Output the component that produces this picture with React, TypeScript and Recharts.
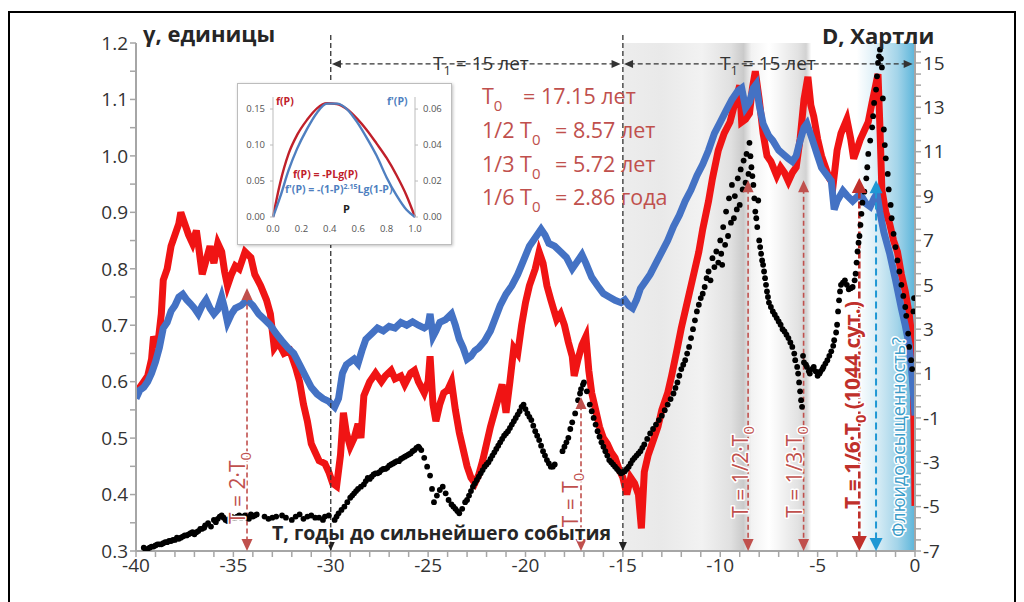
import React from "react";
import {
  ComposedChart,
  LineChart,
  Line,
  Scatter,
  XAxis,
  YAxis,
  ReferenceArea,
  ReferenceLine,
  ReferenceDot,
} from "recharts";

// γ, red curve: [T, value]
const RED: [number, number][] = [
  [-40, 0.575], [-39.8, 0.59], [-39.6, 0.6], [-39.4, 0.61], [-39.2, 0.64], [-39.1, 0.68], [-38.9, 0.66],
  [-38.7, 0.72], [-38.6, 0.78], [-38.4, 0.8], [-38.2, 0.84], [-38.0, 0.86], [-37.8, 0.88], [-37.7, 0.9],
  [-37.5, 0.88], [-37.3, 0.86], [-37.1, 0.845], [-36.9, 0.868], [-36.75, 0.83], [-36.6, 0.79], [-36.4, 0.815],
  [-36.2, 0.84], [-36.0, 0.81], [-35.8, 0.845], [-35.6, 0.83], [-35.45, 0.795], [-35.3, 0.77], [-35.1, 0.79],
  [-34.9, 0.805], [-34.7, 0.8], [-34.4, 0.83], [-34.1, 0.82], [-33.9, 0.79], [-33.6, 0.77], [-33.3, 0.745],
  [-33.1, 0.72], [-32.9, 0.66], [-32.7, 0.67], [-32.4, 0.65], [-32.1, 0.655], [-31.8, 0.625], [-31.6, 0.6],
  [-31.4, 0.56], [-31.2, 0.53], [-31.0, 0.49], [-30.8, 0.475], [-30.6, 0.46], [-30.3, 0.455], [-30.1, 0.44],
  [-29.9, 0.42], [-29.7, 0.415], [-29.5, 0.47], [-29.35, 0.545], [-29.2, 0.51], [-29.0, 0.485], [-28.8, 0.5],
  [-28.6, 0.525], [-28.45, 0.5], [-28.3, 0.575], [-28.0, 0.6], [-27.7, 0.615], [-27.4, 0.6], [-27.2, 0.61],
  [-26.9, 0.62], [-26.7, 0.605], [-26.4, 0.61], [-26.2, 0.595], [-25.9, 0.615], [-25.7, 0.62], [-25.5, 0.6],
  [-25.2, 0.58], [-25.0, 0.6], [-24.9, 0.645], [-24.75, 0.56], [-24.6, 0.53], [-24.4, 0.56], [-24.2, 0.58],
  [-24.0, 0.585], [-23.8, 0.6], [-23.6, 0.55], [-23.4, 0.51], [-23.2, 0.48], [-23.0, 0.45], [-22.8, 0.43],
  [-22.6, 0.42], [-22.4, 0.435], [-22.2, 0.46], [-22.0, 0.49], [-21.8, 0.52], [-21.6, 0.545], [-21.4, 0.57],
  [-21.2, 0.595], [-21.0, 0.545], [-20.8, 0.6], [-20.6, 0.66], [-20.4, 0.65], [-20.2, 0.7], [-20.0, 0.74],
  [-19.8, 0.77], [-19.5, 0.8], [-19.3, 0.83], [-19.1, 0.81], [-18.9, 0.77], [-18.7, 0.745], [-18.4, 0.71],
  [-18.2, 0.72], [-18.0, 0.7], [-17.8, 0.67], [-17.6, 0.645], [-17.5, 0.61], [-17.3, 0.64], [-17.1, 0.665],
  [-16.9, 0.68], [-16.75, 0.62], [-16.6, 0.58], [-16.4, 0.55], [-16.2, 0.52], [-16.0, 0.5], [-15.8, 0.49],
  [-15.6, 0.475], [-15.4, 0.465], [-15.2, 0.445], [-15.0, 0.43], [-14.8, 0.4], [-14.6, 0.43], [-14.4, 0.42],
  [-14.2, 0.4], [-14.05, 0.34], [-13.9, 0.44], [-13.7, 0.47], [-13.5, 0.49], [-13.2, 0.52], [-13.0, 0.55],
  [-12.7, 0.58], [-12.5, 0.61], [-12.2, 0.66], [-12.0, 0.695], [-11.7, 0.74], [-11.4, 0.785], [-11.1, 0.83],
  [-10.9, 0.87], [-10.6, 0.92], [-10.4, 0.96], [-10.1, 1.01], [-9.8, 1.04], [-9.5, 1.06], [-9.2, 1.1],
  [-9.0, 1.125], [-8.9, 1.06], [-8.7, 1.065], [-8.5, 1.075], [-8.35, 1.12], [-8.2, 1.15], [-8.0, 1.1],
  [-7.8, 1.04], [-7.6, 1.0], [-7.4, 0.99], [-7.1, 0.965], [-6.9, 0.98], [-6.7, 0.97], [-6.5, 0.955],
  [-6.3, 0.97], [-6.1, 0.98], [-5.9, 1.03], [-5.7, 1.1], [-5.5, 1.14], [-5.35, 1.09], [-5.2, 1.07],
  [-5.0, 1.03], [-4.8, 1.0], [-4.6, 0.98], [-4.4, 0.96], [-4.2, 0.95], [-4.0, 1.01], [-3.8, 1.04],
  [-3.5, 1.065], [-3.3, 1.03], [-3.15, 0.995], [-3.0, 1.01], [-2.8, 1.03], [-2.6, 1.045], [-2.4, 1.06],
  [-2.2, 1.095], [-2.05, 1.12], [-1.9, 1.145], [-1.8, 1.05], [-1.7, 0.94], [-1.5, 0.9], [-1.3, 0.88],
  [-1.1, 0.85], [-0.9, 0.83], [-0.7, 0.79], [-0.5, 0.76], [-0.3, 0.72], [-0.2, 0.69], [-0.1, 0.62],
  [-0.05, 0.52], [-0.02, 0.45], [0, 0.38],
];

// γ, blue curve: [T, value]
const BLUE: [number, number][] = [
  [-40, 0.57], [-39.8, 0.585], [-39.6, 0.59], [-39.4, 0.6], [-39.2, 0.615], [-39.0, 0.635], [-38.8, 0.66],
  [-38.6, 0.695], [-38.4, 0.705], [-38.2, 0.725], [-38.0, 0.735], [-37.8, 0.75], [-37.6, 0.755], [-37.4, 0.745],
  [-37.2, 0.738], [-37.0, 0.73], [-36.8, 0.72], [-36.6, 0.735], [-36.4, 0.745], [-36.2, 0.73], [-36.0, 0.72],
  [-35.8, 0.728], [-35.6, 0.75], [-35.45, 0.73], [-35.3, 0.705], [-35.1, 0.72], [-34.9, 0.73], [-34.6, 0.735],
  [-34.3, 0.745], [-34.0, 0.735], [-33.7, 0.72], [-33.4, 0.71], [-33.1, 0.7], [-32.8, 0.685], [-32.5, 0.672],
  [-32.2, 0.66], [-31.9, 0.65], [-31.6, 0.63], [-31.3, 0.61], [-31.0, 0.59], [-30.7, 0.578], [-30.4, 0.57],
  [-30.1, 0.565], [-29.8, 0.555], [-29.6, 0.57], [-29.4, 0.615], [-29.2, 0.63], [-29.0, 0.635], [-28.8, 0.64],
  [-28.6, 0.632], [-28.4, 0.655], [-28.2, 0.675], [-27.9, 0.685], [-27.6, 0.695], [-27.3, 0.69], [-27.0, 0.698],
  [-26.7, 0.695], [-26.4, 0.705], [-26.1, 0.7], [-25.8, 0.706], [-25.5, 0.7], [-25.2, 0.695], [-25.0, 0.7],
  [-24.9, 0.72], [-24.75, 0.68], [-24.6, 0.69], [-24.4, 0.705], [-24.1, 0.71], [-23.8, 0.72], [-23.6, 0.7],
  [-23.4, 0.675], [-23.2, 0.66], [-23.0, 0.64], [-22.8, 0.645], [-22.6, 0.655], [-22.4, 0.66], [-22.1, 0.672],
  [-21.8, 0.69], [-21.6, 0.708], [-21.3, 0.735], [-21.0, 0.755], [-20.7, 0.77], [-20.4, 0.79], [-20.1, 0.815],
  [-19.8, 0.84], [-19.5, 0.855], [-19.2, 0.87], [-19.0, 0.86], [-18.8, 0.845], [-18.5, 0.84], [-18.2, 0.83],
  [-17.9, 0.82], [-17.6, 0.8], [-17.4, 0.81], [-17.1, 0.825], [-16.9, 0.81], [-16.6, 0.785], [-16.3, 0.77],
  [-16.0, 0.756], [-15.7, 0.75], [-15.4, 0.744], [-15.1, 0.74], [-14.9, 0.745], [-14.7, 0.735], [-14.5, 0.73],
  [-14.3, 0.745], [-14.1, 0.765], [-13.9, 0.775], [-13.6, 0.79], [-13.3, 0.81], [-13.0, 0.83], [-12.7, 0.85],
  [-12.4, 0.875], [-12.1, 0.895], [-11.8, 0.92], [-11.5, 0.94], [-11.2, 0.965], [-10.9, 0.985], [-10.6, 1.01],
  [-10.3, 1.04], [-10.0, 1.06], [-9.7, 1.08], [-9.4, 1.1], [-9.1, 1.115], [-8.9, 1.12], [-8.7, 1.085],
  [-8.5, 1.095], [-8.3, 1.12], [-8.15, 1.127], [-8.0, 1.09], [-7.8, 1.057], [-7.5, 1.035], [-7.3, 1.027],
  [-7.0, 1.01], [-6.8, 1.004], [-6.5, 0.995], [-6.3, 0.99], [-6.1, 1.0], [-5.9, 1.027], [-5.7, 1.05],
  [-5.55, 1.057], [-5.3, 1.032], [-5.0, 1.0], [-4.8, 0.979], [-4.5, 0.965], [-4.3, 0.956], [-4.15, 0.905],
  [-4.0, 0.92], [-3.7, 0.938], [-3.5, 0.93], [-3.2, 0.92], [-2.9, 0.93], [-2.7, 0.926], [-2.5, 0.915],
  [-2.3, 0.91], [-2.1, 0.925], [-1.95, 0.933], [-1.8, 0.9], [-1.6, 0.865], [-1.3, 0.827], [-1.0, 0.78],
  [-0.7, 0.73], [-0.5, 0.7], [-0.3, 0.665], [-0.15, 0.61], [-0.05, 0.565], [0, 0.54],
];

// D, Hartley (black dots): [T, D]
const DOTS: [number, number][] = [
  [-39.6, -6.85], [-39.5, -6.95], [-39.4, -6.9], [-39.3, -6.85], [-39.2, -6.8], [-39.1, -6.8], [-39.0, -6.75],
  [-38.9, -6.7], [-38.8, -6.7], [-38.7, -6.7], [-38.6, -6.65], [-38.5, -6.6], [-38.4, -6.6], [-38.3, -6.55],
  [-38.2, -6.55], [-38.1, -6.5], [-38.0, -6.5], [-37.9, -6.4], [-37.8, -6.45], [-37.7, -6.4], [-37.6, -6.35],
  [-37.5, -6.3], [-37.4, -6.3], [-37.3, -6.25], [-37.2, -6.2], [-37.1, -6.15], [-37.0, -6.25], [-36.9, -6.15],
  [-36.8, -6.1], [-36.7, -6.0], [-36.6, -6.0], [-36.5, -5.95], [-36.45, -5.85], [-36.3, -5.75], [-36.15, -5.9],
  [-36.0, -5.6], [-35.9, -5.7], [-35.8, -5.55], [-35.7, -5.45], [-35.6, -5.4], [-35.5, -5.5], [-35.4, -5.6],
  [-35.3, -5.65], [-35.2, -5.55], [-35.1, -5.45], [-35.0, -5.5], [-34.9, -5.5], [-34.8, -5.45], [-34.7, -5.4],
  [-34.6, -5.5], [-34.5, -5.45], [-34.4, -5.4], [-34.3, -5.5], [-34.2, -5.55], [-34.1, -5.35], [-34.0, -5.45],
  [-33.9, -5.4], [-33.8, -5.35], [-33.4, -5.45], [-33.2, -5.55], [-33.0, -5.5], [-32.8, -5.45], [-32.5, -5.4],
  [-32.3, -5.5], [-32.0, -5.6], [-31.8, -5.45], [-31.6, -5.35], [-31.4, -5.55], [-31.2, -5.45], [-31.0, -5.4],
  [-30.8, -5.5], [-30.6, -5.5], [-30.4, -5.6], [-30.3, -5.45], [-30.1, -5.4], [-29.8, -5.6], [-29.7, -5.45],
  [-29.6, -5.3], [-29.45, -5.15], [-29.3, -5.0], [-29.15, -4.8], [-29.0, -4.6], [-28.9, -4.5], [-28.8, -4.4],
  [-28.7, -4.3], [-28.6, -4.2], [-28.45, -4.1], [-28.3, -4.0], [-28.2, -3.85], [-28.1, -3.7], [-28.0, -3.75],
  [-27.9, -3.65], [-27.8, -3.55], [-27.7, -3.5], [-27.6, -3.5], [-27.5, -3.45], [-27.4, -3.35], [-27.3, -3.3],
  [-27.2, -3.3], [-27.1, -3.25], [-27.0, -3.15], [-26.9, -3.1], [-26.8, -3.05], [-26.7, -3.0], [-26.6, -2.95],
  [-26.5, -2.95], [-26.4, -2.85], [-26.3, -2.8], [-26.2, -2.75], [-26.1, -2.7], [-26.0, -2.65], [-25.9, -2.6],
  [-25.8, -2.5], [-25.7, -2.45], [-25.6, -2.35], [-25.5, -2.3], [-25.45, -2.35], [-25.35, -2.45], [-25.2, -2.8],
  [-25.05, -3.2], [-24.9, -3.6], [-24.8, -4.2], [-24.7, -4.8], [-24.55, -4.5], [-24.4, -4.25], [-24.25, -4.1],
  [-24.1, -4.4], [-23.95, -4.7], [-23.8, -4.9], [-23.7, -5.0], [-23.6, -5.1], [-23.5, -5.2], [-23.4, -5.3],
  [-23.25, -5.1], [-23.1, -4.8], [-23.0, -4.7], [-22.9, -4.5], [-22.8, -4.3], [-22.7, -4.1], [-22.6, -3.95],
  [-22.5, -3.8], [-22.4, -3.65], [-22.3, -3.5], [-22.2, -3.35], [-22.1, -3.2], [-22.0, -3.1], [-21.9, -3.0],
  [-21.8, -2.85], [-21.7, -2.7], [-21.6, -2.55], [-21.5, -2.4], [-21.4, -2.25], [-21.3, -2.1], [-21.2, -1.95],
  [-21.1, -1.8], [-21.0, -1.7], [-20.9, -1.6], [-20.8, -1.45], [-20.7, -1.3], [-20.6, -1.15], [-20.5, -1.0],
  [-20.4, -0.85], [-20.3, -0.7], [-20.2, -0.5], [-20.1, -0.4], [-20.0, -0.6], [-19.9, -0.8], [-19.8, -0.95],
  [-19.7, -1.1], [-19.6, -1.35], [-19.5, -1.6], [-19.4, -1.8], [-19.3, -2.0], [-19.2, -2.25], [-19.1, -2.5],
  [-19.0, -2.7], [-18.9, -2.9], [-18.8, -3.05], [-18.7, -3.2], [-18.6, -3.2], [-18.5, -3.1], [-18.1, -2.5],
  [-18.0, -2.3], [-17.9, -2.1], [-17.8, -1.9], [-17.7, -1.5], [-17.6, -1.2], [-17.45, -0.8], [-17.3, -0.2],
  [-17.2, 0.1], [-17.15, 0.3], [-17.05, 0.5], [-17.0, 0.6], [-16.85, 0.2], [-16.7, -0.4], [-16.6, -0.7],
  [-16.5, -1.0], [-16.4, -1.3], [-16.3, -1.6], [-16.2, -1.85], [-16.1, -2.1], [-16.0, -2.3], [-15.9, -2.5],
  [-15.8, -2.7], [-15.7, -2.9], [-15.6, -3.0], [-15.5, -3.1], [-15.4, -3.2], [-15.3, -3.3], [-15.2, -3.4],
  [-15.1, -3.5], [-15.0, -3.45], [-14.9, -3.4], [-14.8, -3.3], [-14.7, -3.2], [-14.6, -3.05], [-14.5, -2.9],
  [-14.4, -2.8], [-14.3, -2.7], [-14.2, -2.6], [-14.1, -2.5], [-14.0, -2.35], [-13.9, -2.2], [-13.75, -1.95],
  [-13.6, -1.7], [-13.45, -1.5], [-13.3, -1.3], [-13.15, -1.1], [-13.0, -0.9], [-12.85, -0.65], [-12.7, -0.4],
  [-12.55, -0.15], [-12.4, 0.1], [-12.3, 0.35], [-12.2, 0.6], [-12.1, 0.9], [-12.0, 1.2], [-11.9, 1.4],
  [-11.8, 1.6], [-11.7, 1.9], [-11.6, 2.2], [-11.5, 2.6], [-11.4, 3.0], [-11.3, 3.4], [-11.2, 3.8],
  [-11.1, 4.1], [-11.0, 4.4], [-10.9, 4.6], [-10.8, 4.9], [-10.7, 5.3], [-10.6, 5.6], [-10.5, 5.2],
  [-10.4, 6.2], [-10.3, 5.8], [-10.2, 6.5], [-10.1, 6.0], [-10.0, 7.0], [-9.95, 6.4], [-9.9, 5.9],
  [-9.85, 7.6], [-9.75, 6.8], [-9.7, 8.3], [-9.6, 7.2], [-9.55, 8.9], [-9.45, 7.8], [-9.4, 9.5], [-9.3, 8.0],
  [-9.25, 9.0], [-9.15, 8.4], [-9.1, 9.8], [-9.0, 8.6], [-8.95, 10.2], [-8.85, 9.3], [-8.8, 10.6], [-8.7, 9.6],
  [-8.65, 10.9], [-8.55, 10.0], [-8.5, 11.4], [-8.45, 10.8], [-8.4, 10.3], [-8.35, 9.9], [-8.3, 9.5],
  [-8.25, 8.9], [-8.2, 8.3], [-8.15, 8.0], [-8.1, 7.6], [-8.05, 8.8], [-8.0, 7.0], [-7.95, 6.7], [-7.9, 6.4],
  [-7.85, 6.1], [-7.8, 5.9], [-7.75, 5.6], [-7.7, 5.3], [-7.65, 5.0], [-7.6, 4.7], [-7.55, 4.45], [-7.5, 4.2],
  [-7.4, 4.0], [-7.3, 3.8], [-7.2, 3.65], [-7.1, 3.5], [-7.0, 3.35], [-6.9, 3.2], [-6.8, 3.0], [-6.7, 2.9],
  [-6.6, 2.75], [-6.5, 2.6], [-6.4, 2.4], [-6.3, 2.2], [-6.2, 1.9], [-6.15, 1.6], [-6.05, 1.3], [-6.0, 1.0],
  [-5.95, 0.6], [-5.9, 0.2], [-5.85, -0.2], [-5.8, -0.5], [-5.75, 1.8], [-5.7, 1.5], [-5.6, 1.4],
  [-5.55, 1.3], [-5.45, 1.1], [-5.4, 1.0], [-5.3, 1.2], [-5.2, 1.3], [-5.1, 1.1], [-5.0, 0.9], [-4.9, 1.0],
  [-4.85, 1.1], [-4.75, 1.2], [-4.7, 1.3], [-4.6, 1.45], [-4.5, 1.6], [-4.4, 1.8], [-4.3, 2.0], [-4.2, 2.25],
  [-4.15, 2.5], [-4.05, 2.85], [-4.0, 3.2], [-3.95, 3.8], [-3.9, 4.3], [-3.85, 4.7], [-3.8, 5.0], [-3.7, 5.1],
  [-3.6, 5.2], [-3.5, 5.0], [-3.4, 4.8], [-3.3, 4.85], [-3.2, 4.9], [-3.1, 5.2], [-3.05, 5.5], [-3.0, 6.0],
  [-2.95, 6.5], [-2.9, 6.9], [-2.85, 7.2], [-2.8, 7.7], [-2.75, 8.2], [-2.7, 8.7], [-2.6, 9.2], [-2.5, 9.8],
  [-2.45, 10.3], [-2.4, 10.9], [-2.3, 11.5], [-2.2, 12.1], [-2.15, 12.6], [-2.1, 13.2], [-2.0, 13.8],
  [-1.95, 14.4], [-1.9, 15.0], [-1.85, 15.3], [-1.8, 15.6], [-1.75, 15.2], [-1.7, 14.8], [-1.65, 13.4],
  [-1.6, 12.0], [-1.55, 11.3], [-1.5, 10.7], [-1.4, 10.0], [-1.35, 9.3], [-1.25, 8.6], [-1.2, 8.0],
  [-1.1, 7.3], [-1.0, 6.7], [-0.9, 6.1], [-0.8, 5.6], [-0.7, 5.0], [-0.6, 4.5], [-0.5, 4.0], [-0.45, 3.6],
  [-0.35, 2.8], [-0.3, 2.2], [-0.2, 1.6], [-0.15, 1.2], [-0.08, 3.8], [-0.05, 4.4],
];

const X_LABELS = [-40, -35, -30, -25, -20, -15, -10, -5, 0];
const G_LABELS = [0.3, 0.4, 0.5, 0.6, 0.7, 0.8, 0.9, 1.0, 1.1, 1.2];
const D_LABELS = [-7, -5, -3, -1, 1, 3, 5, 7, 9, 11, 13, 15];

const X_TICKS = Array.from({ length: 41 }, (_, i) => -40 + i);
const G_TICKS = Array.from({ length: 19 }, (_, i) => +(0.3 + i * 0.05).toFixed(2));
const D_TICKS = Array.from({ length: 46 }, (_, i) => -7 + i * 0.5);

// marked periods: 2·T0, T0, T0/2, T0/3 and tops of their arrows (γ units)
const MARK_T = [-34.3, -17.15, -8.57, -5.72];
const MARK_TOP = [0.766, 0.573, 0.957, 0.957];
const T6_MARK = -2.86;
const FLUID_MARK = -2.0;
const ARROW_TOP = 0.957;
const SPLITS = [-30, -15];
const T1_SPANS: [number, number][] = [[-30, -15], [-15, 0]];
const T1_LEVEL = 1.163;

// inset: f(P) and f'(P)
const P_RED = [0, 0.05, 0.11, 0.17, 0.24, 0.31, 0.38, 0.45, 0.52, 0.59, 0.66, 0.73, 0.8, 0.87, 0.94, 1.0];
const F_RED = [0, 0.047, 0.088, 0.114, 0.135, 0.151, 0.158, 0.157, 0.15, 0.137, 0.121, 0.102, 0.082, 0.058, 0.03, 0];
const P_BLUE = [0, 0.05, 0.11, 0.17, 0.24, 0.31, 0.38, 0.45, 0.52, 0.59, 0.66, 0.73, 0.8, 0.87, 0.94, 1.0];
const F_BLUE = [0, 0.011, 0.026, 0.038, 0.049, 0.058, 0.063, 0.063, 0.06, 0.053, 0.044, 0.034, 0.022, 0.012, 0.004, 0];

const redData = RED.map(([t, v]) => ({ t, v }));
const blueData = BLUE.map(([t, v]) => ({ t, v }));
const dotData = DOTS.map(([t, d]) => ({ t, d }));
const insetRed = P_RED.map((p, i) => ({ p, f: F_RED[i] }));
const insetBlue = P_BLUE.map((p, i) => ({ p, g: F_BLUE[i] }));

const AX = "#a6a6a6";
const LBL = "#333";
const MARK_RED = "#c0504d";
const DARK_RED = "#c0302b";
const CYAN = "#1f97d4";

const tri = (dir: string, color: string, w: number, h: number) => (p: any) => {
  const { cx, cy } = p;
  let pts: number[][];
  if (dir === "down") pts = [[cx, cy], [cx - w / 2, cy - h], [cx + w / 2, cy - h]];
  else if (dir === "up") pts = [[cx, cy], [cx - w / 2, cy + h], [cx + w / 2, cy + h]];
  else if (dir === "left") pts = [[cx, cy], [cx + h, cy - w / 2], [cx + h, cy + w / 2]];
  else pts = [[cx, cy], [cx - h, cy - w / 2], [cx - h, cy + w / 2]];
  return <polygon points={pts.map((q) => q.join(",")).join(" ")} fill={color} />;
};

const dot = (p: any) => <circle cx={p.cx} cy={p.cy} r={2.9} fill="#000" />;

const halo = { stroke: "#fff", strokeWidth: 3, paintOrder: "stroke" as const, strokeLinejoin: "round" as const };

function vLabel(x: number, y: number, text: string, tail: string, color: string, size: number, bold = false) {
  return (
    <text
      x={x}
      y={y}
      transform={`rotate(-90 ${x} ${y})`}
      textAnchor="middle"
      fontSize={size}
      fontWeight={bold ? 700 : 400}
      fill={color}
      {...halo}
    >
      {text}
      <tspan fontSize={size * 0.7} dy={6}>0</tspan>
      <tspan dy={-6}>{tail}</tspan>
    </text>
  );
}

export default function App() {
  return (
    <div style={{ position: "absolute", left: 0, top: 0, width: 1024, height: 602, background: "#fff", overflow: "hidden", fontFamily: "'Open Sans', sans-serif" }}>
      <svg width={0} height={0} style={{ position: "absolute" }}>
        <defs>
          <linearGradient id="shade" x1="0" y1="0" x2="1" y2="0">
            <stop offset="0" stopColor="#ededed" />
            <stop offset="0.13" stopColor="#e9e9e9" />
            <stop offset="0.27" stopColor="#f2f2f2" />
            <stop offset="0.37" stopColor="#e0e0e0" />
            <stop offset="0.413" stopColor="#cacaca" />
            <stop offset="0.44" stopColor="#f2f2f2" />
            <stop offset="0.5" stopColor="#ffffff" />
            <stop offset="0.533" stopColor="#f6f6f6" />
            <stop offset="0.6" stopColor="#e2e2e2" />
            <stop offset="0.627" stopColor="#d2d2d2" />
            <stop offset="0.645" stopColor="#ffffff" />
            <stop offset="0.8" stopColor="#ffffff" />
            <stop offset="0.86" stopColor="#dff0f7" />
            <stop offset="0.94" stopColor="#a3d4e9" />
            <stop offset="1" stopColor="#5cb5da" />
          </linearGradient>
        </defs>
      </svg>

      <div style={{ position: "absolute", left: 8, top: 11, width: 1004, height: 640, border: "2px solid #000" }} />

      <div style={{ position: "absolute", left: 8, top: 8 }}>
        <ComposedChart width={1008} height={594} margin={{ top: 35, right: 41, bottom: 21, left: 68 }}>
          <XAxis
            dataKey="t"
            type="number"
            domain={[-40, 0]}
            ticks={X_TICKS}
            interval={0}
            allowDataOverflow
            tickFormatter={(v: number) => (X_LABELS.includes(v) ? String(v) : "")}
            tickSize={6}
            height={30}
            axisLine={{ stroke: AX, strokeWidth: 2 }}
            tickLine={{ stroke: AX, strokeWidth: 1.5 }}
            tick={{ fill: LBL, fontSize: 19 }}
          />
          <YAxis
            yAxisId="left"
            type="number"
            domain={[0.3, 1.2]}
            ticks={G_TICKS}
            interval={0}
            allowDataOverflow
            tickFormatter={(v: number) => (G_LABELS.some((g) => Math.abs(g - v) < 1e-6) ? v.toFixed(1) : "")}
            width={60}
            tickSize={6}
            axisLine={{ stroke: AX, strokeWidth: 2 }}
            tickLine={{ stroke: AX, strokeWidth: 1.5 }}
            tick={{ fill: LBL, fontSize: 19 }}
          />
          <YAxis
            yAxisId="right"
            orientation="right"
            dataKey="d"
            type="number"
            domain={[-7, 15.9]}
            ticks={D_TICKS}
            interval={0}
            allowDataOverflow
            tickFormatter={(v: number) => (D_LABELS.includes(v) ? String(v) : "")}
            width={60}
            tickSize={6}
            axisLine={{ stroke: AX, strokeWidth: 2 }}
            tickLine={{ stroke: AX, strokeWidth: 1.5 }}
            tick={{ fill: LBL, fontSize: 19 }}
          />

          <ReferenceArea yAxisId="left" x1={-15} x2={0} y1={0.3} y2={1.2} fill="url(#shade)" fillOpacity={1} stroke="none" />

          <Line yAxisId="left" data={redData} dataKey="v" stroke="#f01414" strokeWidth={7} dot={false} activeDot={false} isAnimationActive={false} type="linear" />
          <Line yAxisId="left" data={blueData} dataKey="v" stroke="#4472c4" strokeWidth={7} dot={false} activeDot={false} isAnimationActive={false} type="linear" />
          <Scatter yAxisId="right" data={dotData} dataKey="d" shape={dot} isAnimationActive={false} />

          {SPLITS.map((x) => (
            <ReferenceLine key={`s${x}`} yAxisId="left" segment={[{ x, y: 1.214 }, { x, y: 0.3 }]} stroke="#333" strokeWidth={1.3} strokeDasharray="5 3" ifOverflow="visible" />
          ))}
          {SPLITS.map((x) => (
            <ReferenceDot key={`sd${x}`} yAxisId="left" x={x} y={0.3} shape={tri("down", "#222", 8, 9)} ifOverflow="visible" />
          ))}

          {T1_SPANS.map(([a, b]) => (
            <ReferenceLine key={`t1${a}`} yAxisId="left" segment={[{ x: a + 0.35, y: T1_LEVEL }, { x: b - 0.35, y: T1_LEVEL }]} stroke="#333" strokeWidth={1.3} strokeDasharray="5 3" ifOverflow="visible" />
          ))}
          {T1_SPANS.map(([a, b]) => [
            <ReferenceDot key={`t1l${a}`} yAxisId="left" x={a + 0.06} y={T1_LEVEL} shape={tri("left", "#333", 8, 9)} ifOverflow="visible" />,
            <ReferenceDot key={`t1r${a}`} yAxisId="left" x={b - 0.12} y={T1_LEVEL} shape={tri("right", "#333", 8, 9)} ifOverflow="visible" />,
          ])}

          {MARK_T.map((x, i) => (
            <ReferenceLine key={`m${x}`} yAxisId="left" segment={[{ x, y: MARK_TOP[i] - 0.015 }, { x, y: 0.315 }]} stroke={MARK_RED} strokeWidth={1.6} strokeDasharray="5 3" ifOverflow="visible" />
          ))}
          {MARK_T.map((x, i) => [
            <ReferenceDot key={`mu${x}`} yAxisId="left" x={x} y={MARK_TOP[i]} shape={tri("up", MARK_RED, 11, 12)} ifOverflow="visible" />,
            <ReferenceDot key={`md${x}`} yAxisId="left" x={x} y={0.3} shape={tri("down", MARK_RED, 11, 12)} ifOverflow="visible" />,
          ])}

          <ReferenceLine yAxisId="left" segment={[{ x: T6_MARK, y: ARROW_TOP - 0.02 }, { x: T6_MARK, y: 0.32 }]} stroke={DARK_RED} strokeWidth={2.6} strokeDasharray="7 3" ifOverflow="visible" />
          <ReferenceDot yAxisId="left" x={T6_MARK} y={ARROW_TOP + 0.004} shape={tri("up", DARK_RED, 15, 15)} ifOverflow="visible" />
          <ReferenceDot yAxisId="left" x={T6_MARK} y={0.3} shape={tri("down", DARK_RED, 15, 15)} ifOverflow="visible" />

          <ReferenceLine yAxisId="left" segment={[{ x: FLUID_MARK, y: ARROW_TOP - 0.02 }, { x: FLUID_MARK, y: 0.32 }]} stroke={CYAN} strokeWidth={2} strokeDasharray="7 4" ifOverflow="visible" />
          <ReferenceDot yAxisId="left" x={FLUID_MARK} y={ARROW_TOP} shape={tri("up", CYAN, 13, 13)} ifOverflow="visible" />
          <ReferenceDot yAxisId="left" x={FLUID_MARK} y={0.3} shape={tri("down", CYAN, 13, 13)} ifOverflow="visible" />
        </ComposedChart>
      </div>

      <div style={{ position: "absolute", left: 237, top: 83, width: 215, height: 162, boxSizing: "border-box", border: "1px solid #bdbdbd", background: "#fff", boxShadow: "1px 1px 3px rgba(0,0,0,0.25)" }}>
        <LineChart width={213} height={160} margin={{ top: 13, right: 6, bottom: 7, left: 5 }}>
          <XAxis dataKey="p" type="number" domain={[0, 1]} ticks={[0, 0.2, 0.4, 0.6, 0.8, 1]} interval={0} tickFormatter={(v: number) => v.toFixed(1)} axisLine={false} tickLine={false} height={20} tick={{ fill: "#555", fontSize: 9.5 }} />
          <YAxis yAxisId="l" type="number" domain={[0, 0.1667]} ticks={[0, 0.05, 0.1, 0.15]} interval={0} tickFormatter={(v: number) => v.toFixed(2)} width={30} tickSize={3} tickMargin={5} axisLine={{ stroke: "#bbb" }} tickLine={{ stroke: "#bbb" }} tick={{ fill: "#555", fontSize: 9.5 }} />
          <YAxis yAxisId="r" orientation="right" type="number" domain={[0, 0.0667]} ticks={[0, 0.02, 0.04, 0.06]} interval={0} tickFormatter={(v: number) => v.toFixed(2)} width={30} tickSize={3} tickMargin={5} axisLine={{ stroke: "#bbb" }} tickLine={{ stroke: "#bbb" }} tick={{ fill: "#555", fontSize: 9.5 }} />
          <Line yAxisId="l" data={insetRed} dataKey="f" type="monotone" stroke="#c0202a" strokeWidth={2.4} dot={false} activeDot={false} isAnimationActive={false} />
          <Line yAxisId="r" data={insetBlue} dataKey="g" type="monotone" stroke="#4f7fc0" strokeWidth={2.4} dot={false} activeDot={false} isAnimationActive={false} />
        </LineChart>
      </div>

      <svg width={1024} height={602} style={{ position: "absolute", left: 0, top: 0, pointerEvents: "none" }} fontFamily="'Open Sans', sans-serif">
        <text x={143} y={42} fontSize={22} fontWeight={700} fill="#262626">γ, единицы</text>
        <text x={822} y={44} fontSize={22} fontWeight={700} fill="#262626">D, Хартли</text>
        <text x={272} y={540} fontSize={19.5} fontWeight={700} fill="#262626" {...halo}>T, годы до сильнейшего события</text>

        {[433, 720].map((x) => (
          <text key={x} x={x} y={70} fontSize={19} fill="#333">
            T<tspan fontSize={13} dy={5}>1</tspan>
            <tspan dy={-5}> = 15 лет</tspan>
          </text>
        ))}

        <g fontSize={21.5} fill={MARK_RED}>
          <text x={482} y={104}>T<tspan fontSize={15} dy={7}>0</tspan></text>
          <text x={523} y={104}>= 17.15 лет</text>
          <text x={482} y={138}>1/2 T<tspan fontSize={15} dy={7}>0</tspan></text>
          <text x={555} y={138}>= 8.57 лет</text>
          <text x={482} y={172}>1/3 T<tspan fontSize={15} dy={7}>0</tspan></text>
          <text x={555} y={172}>= 5.72 лет</text>
          <text x={482} y={205}>1/6 T<tspan fontSize={15} dy={7}>0</tspan></text>
          <text x={555} y={205}>= 2.86 года</text>
        </g>

        {vLabel(245, 488, "T = 2·T", "", MARK_RED, 21)}
        {vLabel(578, 500, "T = T", "", MARK_RED, 21)}
        {vLabel(748, 472, "T = 1/2·T", "", MARK_RED, 21)}
        {vLabel(802, 472, "T = 1/3·T", "", MARK_RED, 21)}
        {vLabel(860, 405, "T = 1/6·T", " (1044 сут.)", DARK_RED, 21, true)}
        <text x={905} y={437} transform="rotate(-90 905 437)" textAnchor="middle" fontSize={18} fill="#3a9cc9" {...halo}>
          Флюидоасыщенность?
        </text>

        <g fontWeight={700} fontSize={10.5}>
          <text x={276} y={105} fill="#c0202a">f(P)</text>
          <text x={387} y={105} fill="#4f7fc0">f'(P)</text>
          <text x={293} y={178} fill="#c0202a">f(P) = -PLg(P)</text>
          <text x={285} y={193} fill="#4f7fc0">
            f'(P) = -(1-P)<tspan fontSize={7} dy={-4}>2.15</tspan>
            <tspan dy={4}>Lg(1-P)</tspan>
          </text>
          <text x={343} y={213} fontSize={11} fill="#222">P</text>
        </g>
      </svg>
    </div>
  );
}
